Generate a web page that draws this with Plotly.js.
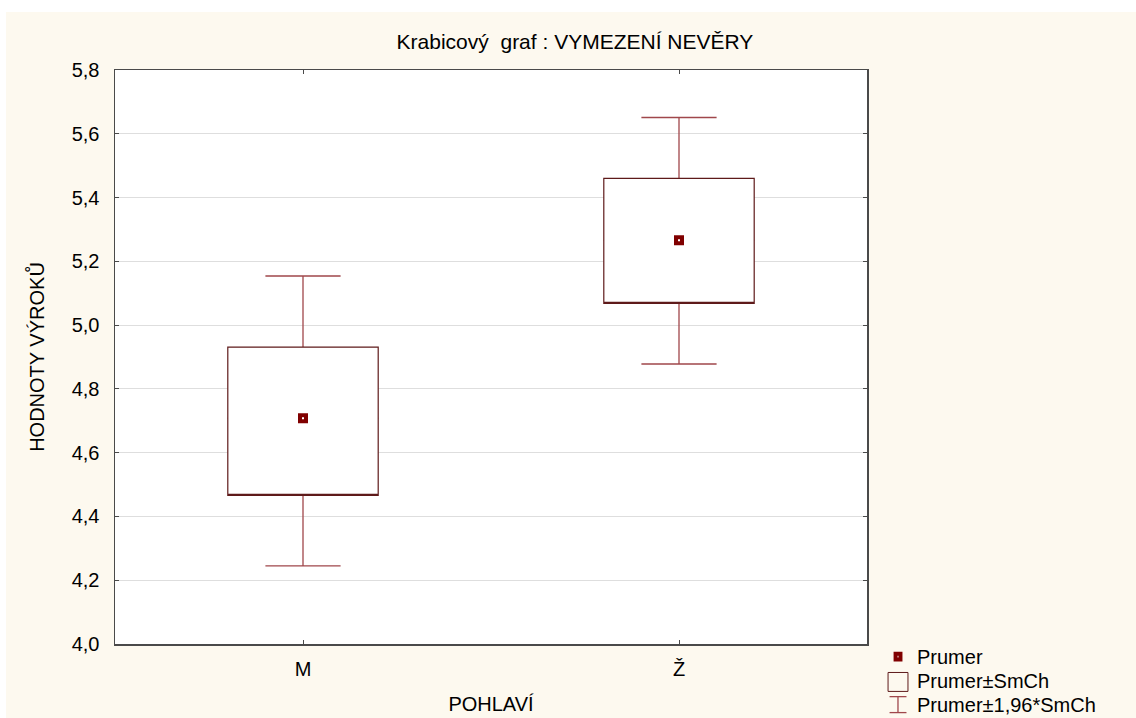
<!DOCTYPE html>
<html>
<head>
<meta charset="utf-8">
<script src="https://cdn.plot.ly/plotly-3.0.1.min.js"></script>
<style>
  body { margin: 0; background: #ffffff; }
  #chart { position: absolute; left: 6px; top: 12px; width: 1130px; height: 706px; }
</style>
</head>
<body>
<div id="chart"></div>
<script>
// Krabicový graf – průměr, ±SmCh, ±1,96*SmCh
var categories = ['M', 'Ž'];
var means = [4.708, 5.266];
var seLow = [4.466, 5.068];
var seHigh = [4.931, 5.460];
var ciLow = [4.245, 4.878];
var ciHigh = [5.154, 5.651];
var yTicks = [4.0, 4.2, 4.4, 4.6, 4.8, 5.0, 5.2, 5.4, 5.6, 5.8];

var fontFam = '"Liberation Sans", Arial, sans-serif';
var darkRed = '#800000';

// whiskers (±1,96*SmCh): collapsed box, only whiskers + caps visible
var whiskers = {
  type: 'box',
  x: categories,
  q1: means, median: means, q3: means,
  lowerfence: ciLow, upperfence: ciHigh,
  width: 0.4,
  whiskerwidth: 0.5,
  fillcolor: 'rgba(0,0,0,0)',
  line: { color: '#a0474b', width: 1.3 },
  hoverinfo: 'skip',
  showlegend: false
};

// box (±SmCh) with white fill on top of whisker stems
var boxes = {
  type: 'box',
  x: categories,
  q1: seLow, median: seLow, q3: seHigh,
  lowerfence: seLow, upperfence: seHigh,
  width: 0.4,
  whiskerwidth: 0,
  fillcolor: '#ffffff',
  line: { color: '#5e1a1a', width: 1.2 },
  hoverinfo: 'skip',
  showlegend: false
};

var meanPts = {
  type: 'scatter',
  mode: 'markers',
  x: categories,
  y: means,
  marker: { symbol: 'square', size: 6, color: '#ffffff', line: { color: darkRed, width: 4 } },
  showlegend: false
};

// legend drawn by hand (paper coords)
var legendItems = ['Prumer', 'Prumer±SmCh', 'Prumer±1,96*SmCh'];
var legY = [-0.022, -0.065, -0.107];

var annotations = legendItems.map(function (t, i) {
  return {
    xref: 'paper', yref: 'paper', x: 1.064, y: legY[i],
    xanchor: 'left', yanchor: 'middle', showarrow: false,
    text: t, font: { family: fontFam, size: 20, color: '#000' }
  };
});

var shapes = [
  // Prumer marker icon
  { type: 'rect', xref: 'paper', yref: 'paper',
    x0: 1.038, x1: 1.0445, y0: legY[0] - 0.0052, y1: legY[0] + 0.0052,
    fillcolor: '#ffffff', line: { color: darkRed, width: 4 } },
  // Prumer±SmCh box icon
  { type: 'rect', xref: 'paper', yref: 'paper',
    x0: 1.028, x1: 1.0545, y0: -0.0826, y1: -0.0496,
    fillcolor: 'rgba(0,0,0,0)', line: { color: '#5e1a1a', width: 1 } },
  // Prumer±1,96*SmCh whisker icon
  { type: 'line', xref: 'paper', yref: 'paper', x0: 1.0412, x1: 1.0412, y0: -0.1195, y1: -0.0917,
    line: { color: '#a0474b', width: 1.3 } },
  { type: 'line', xref: 'paper', yref: 'paper', x0: 1.030, x1: 1.0525, y0: -0.0917, y1: -0.0917,
    line: { color: '#a0474b', width: 1.3 } },
  { type: 'line', xref: 'paper', yref: 'paper', x0: 1.030, x1: 1.0525, y0: -0.1195, y1: -0.1195,
    line: { color: '#a0474b', width: 1.3 } }
];

var layout = {
  width: 1130, height: 706,
  paper_bgcolor: '#fdf9ef',
  plot_bgcolor: '#ffffff',
  margin: { l: 109, r: 269, t: 58, b: 74 },
  font: { family: fontFam, size: 20, color: '#000' },
  boxmode: 'overlay',
  title: {
    text: 'Krabicový&nbsp; graf : VYMEZENÍ NEVĚRY',
    font: { family: fontFam, size: 21, color: '#000' },
    xref: 'container', yref: 'container',
    x: 0.5035, y: 0.9575, xanchor: 'center', yanchor: 'middle'
  },
  xaxis: {
    type: 'category',
    range: [-0.5, 1.5],
    showgrid: false,
    zeroline: false,
    showline: true, mirror: 'ticks',
    linecolor: '#4a4a4a', linewidth: 1.5,
    ticks: 'inside', ticklen: 4, tickcolor: '#4a4a4a',
    ticklabelstandoff: 6,
    tickfont: { family: fontFam, size: 20 },
    title: { text: 'POHLAVÍ', font: { family: fontFam, size: 20 }, standoff: 18 }
  },
  yaxis: {
    range: [4.0, 5.8],
    tickvals: yTicks,
    tickformat: '.1f',
    showgrid: true, gridcolor: '#dedede', gridwidth: 1,
    zeroline: false,
    showline: true, mirror: 'ticks',
    linecolor: '#4a4a4a', linewidth: 1.5,
    ticks: 'inside', ticklen: 4, tickcolor: '#4a4a4a',
    ticklabelstandoff: 10,
    tickfont: { family: fontFam, size: 20 },
    title: { text: 'HODNOTY VÝROKŮ', font: { family: fontFam, size: 20 }, standoff: 21 }
  },
  separators: ', ',
  annotations: annotations,
  shapes: shapes
};

Plotly.newPlot('chart', [whiskers, boxes, meanPts], layout, { displayModeBar: false, staticPlot: true });
</script>
</body>
</html>
